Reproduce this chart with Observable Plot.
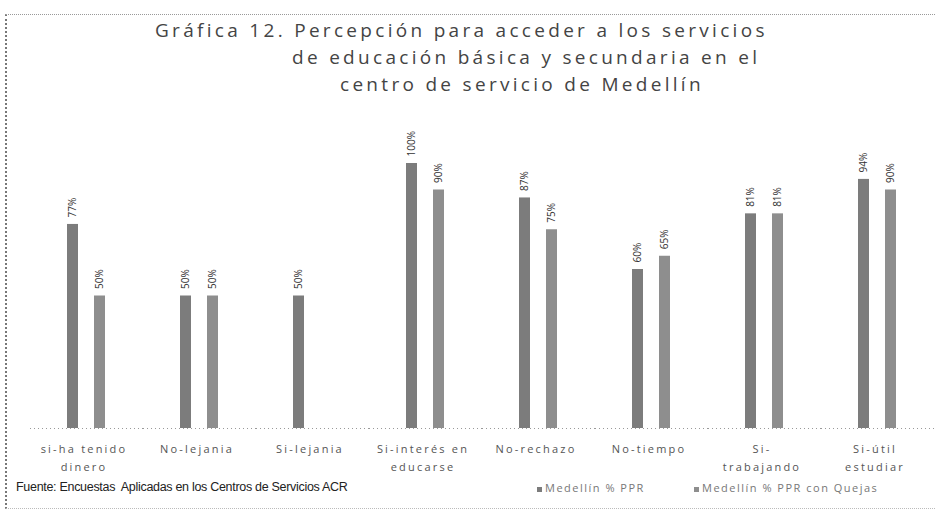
<!DOCTYPE html>
<html>
<head>
<meta charset="utf-8">
<script src="https://cdn.jsdelivr.net/npm/d3@7"></script>
<script src="https://cdn.jsdelivr.net/npm/@observablehq/plot@0.6"></script>
<style>
  body { margin: 0; background: #fff; }
  #wrap { position: relative; width: 937px; height: 512px; overflow: hidden; background: #fff;
          font-family: "Open Sans", "DejaVu Sans", sans-serif; }
  #frame { position: absolute; left: 5px; top: 14px; width: 928px; height: 493px;
           border-left: 2px dotted #777; border-top: 1px dotted #999; border-bottom: 1px dotted #bbb; }
  #title { position: absolute; left: 0; top: 0; width: 937px; color: #444;
           font-size: 19px; line-height: 26px; letter-spacing: 3.3px; }
  #title div { position: absolute; white-space: nowrap; }
  #chart { position: absolute; left: 0; top: 0; }
  .cat text { letter-spacing: 2.2px; }
  #source { position: absolute; left: 16px; top: 480px; font-family: "Liberation Sans Narrow", "Liberation Sans", sans-serif;
            font-size: 12.5px; color: #222; letter-spacing: -0.3px; }
  #legend { position: absolute; top: 480px; left: 0; font-size: 11px; color: #777; letter-spacing: 1.5px; }
  #legend span.sw { display: inline-block; width: 5px; height: 5px; margin-right: 3px; vertical-align: middle; }
  #legend .item { position: absolute; white-space: nowrap; }
</style>
</head>
<body>
<div id="wrap">
  <div id="frame"></div>
  <div id="chart"></div>
  <div id="title">
    <div style="left:155px; top:17px">Gráfica 12. Percepción para acceder a los servicios</div>
    <div style="left:292px; top:44px">de educación básica y secundaria en el</div>
    <div style="left:340px; top:71px">centro de servicio de Medellín</div>
  </div>
  <div id="source">Fuente: Encuestas&nbsp; Aplicadas en los Centros de Servicios ACR</div>
  <div id="legend"></div>
</div>
<script>
const categories = ["si-ha tenido dinero", "No-lejania", "Si-lejania", "Si-interés en educarse",
                    "No-rechazo", "No-tiempo", "Si-trabajando", "Si-útil estudiar"];
const tickLabels = ["si-ha tenido\ndinero", "No-lejania", "Si-lejania", "Si-interés en\neducarse",
                    "No-rechazo", "No-tiempo", "Si-\ntrabajando", "Si-útil\nestudiar"];
const seriesNames = ["Medellín % PPR", "Medellín % PPR con Quejas"];
const seriesA = [77, 50, 50, 100, 87, 60, 81, 94];
const seriesB = [50, 50, null, 90, 75, 65, 81, 90];
const colors = ["#7c7c7c", "#8e8e8e"];

const data = [];
categories.forEach((c, i) => {
  if (seriesA[i] != null) data.push({cat: c, series: seriesNames[0], value: seriesA[i]});
  if (seriesB[i] != null) data.push({cat: c, series: seriesNames[1], value: seriesB[i]});
});
const labelOf = new Map(categories.map((c, i) => [c, tickLabels[i]]));

const chart = Plot.plot({
  width: 937,
  height: 512,
  marginTop: 163,
  marginBottom: 84,
  marginLeft: 27,
  marginRight: 0,
  style: {fontFamily: "'Open Sans', 'DejaVu Sans', sans-serif", background: "transparent"},
  fx: {domain: categories, padding: 0, axis: null},
  x: {domain: seriesNames, paddingInner: 0.58, paddingOuter: 1.33, axis: null},
  y: {domain: [0, 100], axis: null},
  color: {domain: seriesNames, range: colors},
  marks: [
    Plot.ruleY([0], {stroke: "#999", strokeDasharray: "1,3"}),
    Plot.barY(data, {fx: "cat", x: "series", y: "value", fill: "series"}),
    Plot.text(data, {fx: "cat", x: "series", y: "value", text: d => d.value + "%",
                     rotate: -90, textAnchor: "start", dy: -7, fontSize: 10, fill: "#333"}),
    Plot.text(categories, {fx: d => d, text: d => labelOf.get(d), frameAnchor: "bottom",
                     lineAnchor: "top", dy: 12, dx: -3, fontSize: 11, fill: "#555", lineHeight: 1.6,
                     className: "cat"})
  ]
});
document.getElementById("chart").appendChild(chart);

const legend = document.getElementById("legend");
const legendX = [537, 694];
seriesNames.forEach((s, i) => {
  const it = document.createElement("div");
  it.className = "item";
  it.style.left = legendX[i] + "px";
  it.innerHTML = `<span class="sw" style="background:${colors[i]}"></span>${s}`;
  legend.appendChild(it);
});
</script>
</body>
</html>
